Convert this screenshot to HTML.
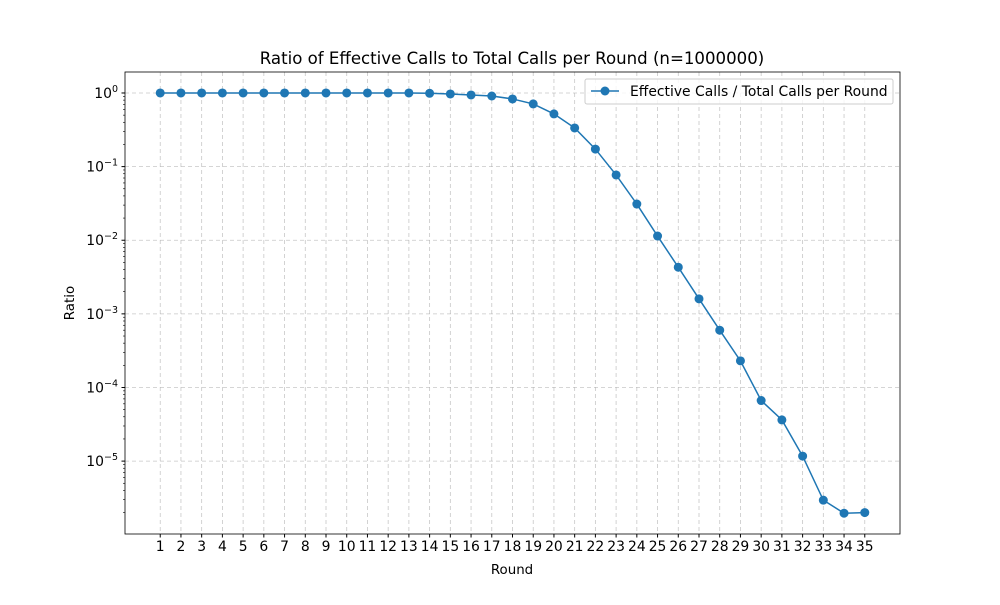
<!DOCTYPE html>
<html><head><meta charset="utf-8"><style>
body{margin:0;background:#fff;}
text{font-family:"DejaVu Sans","Liberation Sans",sans-serif;fill:#000;}
</style></head><body>
<svg id="chart" width="1000" height="600" xmlns="http://www.w3.org/2000/svg">
<rect width="1000" height="600" fill="#fff"/>
<text x="512" y="64" text-anchor="middle" font-size="16.6">Ratio of Effective Calls to Total Calls per Round (n=1000000)</text>
<g id="grid"></g><g id="axes"></g><g id="series"></g>
<text x="512" y="574" text-anchor="middle" font-size="13.4">Round</text>
<text x="74" y="303" text-anchor="middle" font-size="13.4" transform="rotate(-90 74 303)">Ratio</text>
<g>
<rect x="585" y="79" width="308" height="25" fill="#fff" fill-opacity="0.8" stroke="#ccc" rx="2"/>
<line x1="591" y1="91" x2="619" y2="91" stroke="#1f77b4" stroke-width="1.5"/>
<circle cx="605" cy="91" r="4.5" fill="#1f77b4"/>
<text x="630" y="96" font-size="13.9">Effective Calls / Total Calls per Round</text>
</g>
</svg>
<script>
const rounds=[1,2,3,4,5,6,7,8,9,10,11,12,13,14,15,16,17,18,19,20,21,22,23,24,25,26,27,28,29,30,31,32,33,34,35];
const ratios=[1,1,1,1,1,1,1,1,1,1,1,1,1,0.99,0.97,0.94,0.91,0.83,0.71,0.52,0.335,0.173,0.077,0.031,0.0114,0.0043,0.0016,0.0006,0.00023,0.0000665,0.0000363,0.0000117,0.00000295,0.00000196,0.000002];
const yTickExps=[0,-1,-2,-3,-4,-5];
const NS="http://www.w3.org/2000/svg";
const L=125,R=900,T=72,B=534;
const xMin=-0.7,xMax=36.7;
const yLogMax=0.285,yLogMin=-5.99;
const X=v=>L+(v-xMin)/(xMax-xMin)*(R-L);
const Y=v=>T+(yLogMax-Math.log10(v))/(yLogMax-yLogMin)*(B-T);
function mk(tag,attrs,parent){const e=document.createElementNS(NS,tag);for(const k in attrs)e.setAttribute(k,attrs[k]);document.getElementById(parent).appendChild(e);return e;}
rounds.forEach(r=>{
 const x=X(r);
 const g=mk('line',{x1:x,x2:x,y1:T,y2:B,stroke:'#b0b0b0','stroke-dasharray':'4,3','stroke-width':0.8,opacity:0.7},'grid');
 
 
 mk('line',{x1:x,x2:x,y1:B,y2:B+3.5,stroke:'#000'},'axes');
 const t=mk('text',{x:x,y:B+17,'text-anchor':'middle','font-size':13.9},'axes');t.textContent=r;
 
 
});
for(let e=0;e>=-6;e--){for(let m=2;m<10;m++){const v=m*Math.pow(10,e-1)*10;const y=Y(v);if(y>T&&y<B)mk('line',{x1:L-2,x2:L,y1:y,y2:y,stroke:'#000','stroke-width':0.6},'axes');}}
yTickExps.forEach(e=>{
 const y=Y(Math.pow(10,e));
 const g=mk('line',{x1:L,x2:R,y1:y,y2:y,stroke:'#b0b0b0','stroke-dasharray':'4,3','stroke-width':0.8,opacity:0.7},'grid');
 
 
 mk('line',{x1:L-3.5,x2:L,y1:y,y2:y,stroke:'#000'},'axes');
 const t=mk('text',{x:L-7,y:y+5,'text-anchor':'end','font-size':13.9},'axes');
 
 
 t.textContent='10';const s=document.createElementNS(NS,'tspan');s.setAttribute('dy','-6');s.setAttribute('font-size','9.5');s.textContent=e===0?'0':'\u2212'+(-e);t.appendChild(s);
});
mk('rect',{x:L,y:T,width:R-L,height:B-T,fill:'none',stroke:'#000','stroke-width':0.8},'axes');
const pts=rounds.map((r,i)=>X(r)+','+Y(ratios[i])).join(' ');
const pl=mk('polyline',{points:pts,fill:'none',stroke:'#1f77b4','stroke-width':1.5},'series');


rounds.forEach((r,i)=>{const c=mk('circle',{cx:X(r),cy:Y(ratios[i]),r:4.5,fill:'#1f77b4'},'series');
 
 });
</script>
</body></html>
